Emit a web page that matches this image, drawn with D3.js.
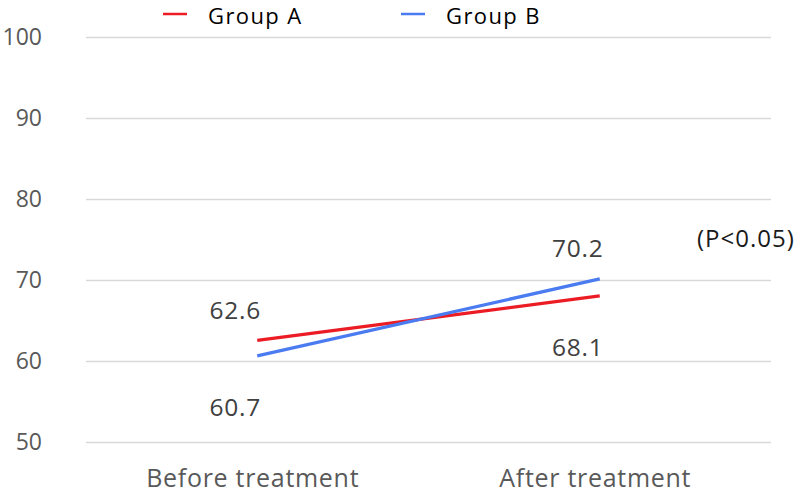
<!DOCTYPE html>
<html>
<head>
<meta charset="utf-8">
<script src="https://cdn.jsdelivr.net/npm/d3@7"></script>
<style>
  body { margin: 0; background: #fff; }
  svg { display: block; }
  text { font-family: "Open Sans", sans-serif; }
</style>
</head>
<body>
<svg id="chart" width="800" height="494"></svg>
<script>
// ---- data ----
const categories = ["Before treatment", "After treatment"];
const groupA = [62.6, 68.1];
const groupB = [60.7, 70.2];
const seriesNames = ["Group A", "Group B"];
const labelPosA = ["above", "below"];
const labelPosB = ["below", "above"];
const yTicks = [50, 60, 70, 80, 90, 100];
const note = "(P<0.05)";

// ---- layout ----
const W = 800, H = 494;
const margin = { left: 86, right: 29, top: 37.5, bottom: 51.5 };
const colors = ["#ec1c24", "#4a7bf0"];

const svg = d3.select("#chart");
const x = d3.scalePoint().domain(categories).range([margin.left, W - margin.right]).padding(0.5);
const y = d3.scaleLinear().domain([50, 100]).range([H - margin.bottom, margin.top]);

// gridlines
svg.append("g")
  .selectAll("line")
  .data(yTicks)
  .join("line")
  .attr("x1", margin.left).attr("x2", W - margin.right)
  .attr("y1", d => y(d)).attr("y2", d => y(d))
  .attr("stroke", "#d9d9d9").attr("stroke-width", 1.5);

// y axis
const yAxis = svg.append("g")
  .attr("transform", `translate(42,0)`)
  .call(d3.axisLeft(y).tickValues(yTicks).tickSize(0).tickPadding(0));
yAxis.select(".domain").remove();
yAxis.selectAll("text")
  .attr("fill", "#595959")
  .style("font-size", "23px")
  .style("font-family", "'Open Sans', sans-serif");

// x axis
const xAxis = svg.append("g")
  .attr("transform", `translate(-5,${H - margin.bottom})`)
  .call(d3.axisBottom(x).tickSize(0).tickPadding(27));
xAxis.select(".domain").remove();
xAxis.selectAll("text")
  .attr("fill", "#595959")
  .style("font-size", "25px")
  .style("letter-spacing", "0.7px")
  .style("font-family", "'Open Sans', sans-serif");

// lines
const series = [groupA, groupB];
const labelPos = [labelPosA, labelPosB];
const line = d3.line().x((d, i) => x(categories[i])).y(d => y(d));
series.forEach((s, k) => {
  svg.append("path")
    .datum(s)
    .attr("d", line)
    .attr("fill", "none")
    .attr("stroke", colors[k])
    .attr("stroke-width", 3.2);
});

// data labels
series.forEach((s, k) => {
  svg.append("g")
    .selectAll("text")
    .data(s)
    .join("text")
    .attr("x", (d, i) => x(categories[i]) - 22)
    .attr("y", (d, i) => y(d) + (labelPos[k][i] === "above" ? -31 : 51))
    .attr("text-anchor", "middle")
    .attr("dominant-baseline", "central")
    .attr("fill", "#404040")
    .style("font-size", "24.5px")
    .style("letter-spacing", "0.8px")
    .text(d => d.toFixed(1));
});

// note
svg.append("text")
  .attr("x", 697).attr("y", 237)
  .attr("dominant-baseline", "central")
  .attr("fill", "#1a1a1a")
  .style("font-size", "24px")
  .style("letter-spacing", "1px")
  .text(note);

// legend
const legendX = [163, 401];
const legend = svg.append("g");
seriesNames.forEach((name, k) => {
  legend.append("line")
    .attr("x1", legendX[k]).attr("x2", legendX[k] + 24)
    .attr("y1", 14).attr("y2", 14)
    .attr("stroke", colors[k]).attr("stroke-width", 2.5);
  legend.append("text")
    .attr("x", legendX[k] + 45).attr("y", 23.5)
    .attr("fill", "#000")
    .style("font-size", "22px")
    .style("letter-spacing", "1.4px")
    .text(name);
});
</script>
</body>
</html>
